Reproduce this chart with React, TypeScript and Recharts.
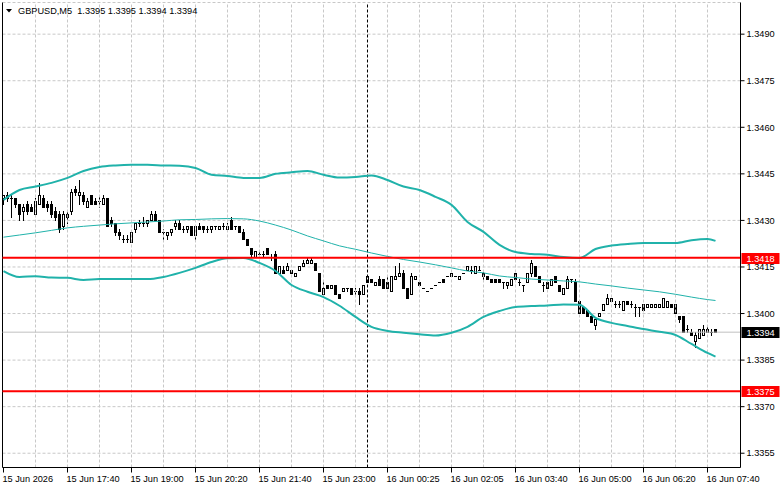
import { ComposedChart, Bar, Line, XAxis, YAxis, CartesianGrid, ReferenceLine } from "recharts"

// GBPUSD M5 candles with Bollinger bands, MT4 look.

const FONT = "'Liberation Sans', Arial, sans-serif"

const OPEN = [
  1.3437, 1.3438, 1.3437, 1.3437, 1.3435, 1.3433, 1.3435, 1.3434, 1.3432, 1.3435,
  1.3437, 1.3435, 1.3435, 1.3433, 1.3432, 1.3428, 1.3431, 1.3433, 1.344, 1.3438,
  1.3438, 1.3434, 1.3438, 1.3436, 1.3436, 1.3435, 1.3437, 1.343, 1.3429, 1.3426,
  1.3424, 1.3424, 1.3423, 1.3427, 1.3429, 1.3429, 1.3429, 1.343, 1.3432, 1.343,
  1.3426, 1.3425, 1.3426, 1.3428, 1.3429, 1.3427, 1.3427, 1.3428, 1.3425, 1.3428,
  1.3428, 1.3427, 1.3427, 1.3428, 1.3427, 1.3428, 1.3427, 1.343, 1.3428, 1.3428,
  1.3426, 1.3424, 1.3421, 1.3418, 1.3419, 1.3419, 1.3421, 1.3418, 1.3419, 1.3413,
  1.3414, 1.3414, 1.3414, 1.3412, 1.3414, 1.3415, 1.3416, 1.3416, 1.3416, 1.3413,
  1.3406, 1.3409, 1.3408, 1.3409, 1.3406, 1.3407, 1.3408, 1.3408, 1.3407, 1.3407,
  1.3406, 1.341, 1.3411, 1.3409, 1.3411, 1.3411, 1.341, 1.3407, 1.3411, 1.3412,
  1.3413, 1.3408, 1.3406, 1.3411, 1.341, 1.3408, 1.3407, 1.3408, 1.3409, 1.341,
  1.3411, 1.3412, 1.3412, 1.3412, 1.3411, 1.3413, 1.3414, 1.3414, 1.3413, 1.3414,
  1.3413, 1.3412, 1.3411, 1.3411, 1.3411, 1.341, 1.3409, 1.3409, 1.3413, 1.341,
  1.3409, 1.341, 1.3413, 1.3415, 1.3412, 1.3409, 1.341, 1.3409, 1.3412, 1.3409,
  1.3406, 1.3408, 1.3411, 1.341, 1.3404, 1.3402, 1.3401, 1.3399, 1.3396, 1.3399,
  1.3401, 1.3403, 1.3404, 1.3403, 1.3403, 1.3401, 1.3404, 1.3403, 1.3402, 1.3402,
  1.3403, 1.3402, 1.3402, 1.3402, 1.3402, 1.3402, 1.3402, 1.3403, 1.3403, 1.3399,
  1.3399, 1.3395, 1.3394, 1.3391, 1.3392, 1.3393, 1.3395, 1.3394, 1.3395,
]
const HIGH = [
  1.3438, 1.3439, 1.3438, 1.3437, 1.3435, 1.3435, 1.3436, 1.3435, 1.3437, 1.3442,
  1.3438, 1.3436, 1.3436, 1.3434, 1.3433, 1.3433, 1.3433, 1.344, 1.3441, 1.3443,
  1.3439, 1.3437, 1.3438, 1.3437, 1.3438, 1.3438, 1.3437, 1.3431, 1.3429, 1.3427,
  1.3425, 1.3425, 1.3426, 1.3429, 1.343, 1.3431, 1.343, 1.3433, 1.3433, 1.343,
  1.3427, 1.3426, 1.3427, 1.343, 1.343, 1.3428, 1.3428, 1.3428, 1.3428, 1.3429,
  1.3428, 1.3428, 1.3428, 1.3428, 1.3428, 1.3429, 1.3429, 1.3431, 1.3428, 1.3428,
  1.3427, 1.3424, 1.3421, 1.342, 1.342, 1.342, 1.3421, 1.3419, 1.342, 1.3415,
  1.3415, 1.3416, 1.3414, 1.3413, 1.3415, 1.3417, 1.3418, 1.3418, 1.3416, 1.3413,
  1.341, 1.3409, 1.3409, 1.3409, 1.3406, 1.3408, 1.3408, 1.3408, 1.3408, 1.3408,
  1.3409, 1.3412, 1.3411, 1.341, 1.3412, 1.3411, 1.3412, 1.3412, 1.3415, 1.3416,
  1.3414, 1.3408, 1.3413, 1.3412, 1.341, 1.3408, 1.3407, 1.3408, 1.3409, 1.341,
  1.3411, 1.3412, 1.3413, 1.3412, 1.3412, 1.3413, 1.3415, 1.3415, 1.3415, 1.3415,
  1.3414, 1.3412, 1.3411, 1.3411, 1.3411, 1.341, 1.341, 1.3411, 1.3413, 1.3411,
  1.3409, 1.3413, 1.3417, 1.3415, 1.3412, 1.341, 1.341, 1.3411, 1.3412, 1.3409,
  1.3408, 1.3412, 1.3411, 1.3411, 1.3404, 1.3402, 1.3401, 1.3399, 1.3398, 1.34,
  1.3403, 1.3406, 1.3405, 1.3404, 1.3404, 1.3404, 1.3404, 1.3404, 1.3403, 1.3402,
  1.3403, 1.3403, 1.3403, 1.3403, 1.3403, 1.3405, 1.3404, 1.3403, 1.3403, 1.3399,
  1.3399, 1.3396, 1.3395, 1.3394, 1.3395, 1.3396, 1.3396, 1.3395, 1.3395,
]
const LOW = [
  1.3435, 1.3436, 1.3431, 1.3434, 1.343, 1.343, 1.3432, 1.3433, 1.3432, 1.3435,
  1.3434, 1.3433, 1.3431, 1.343, 1.3426, 1.3427, 1.3429, 1.3432, 1.3438, 1.3435,
  1.3435, 1.3434, 1.3435, 1.3435, 1.3434, 1.3435, 1.3428, 1.3428, 1.3425, 1.3424,
  1.3423, 1.3423, 1.3423, 1.3426, 1.3428, 1.3428, 1.3428, 1.343, 1.343, 1.3426,
  1.3424, 1.3424, 1.3425, 1.3427, 1.3427, 1.3426, 1.3426, 1.3425, 1.3424, 1.3427,
  1.3426, 1.3426, 1.3426, 1.3427, 1.3427, 1.3427, 1.3427, 1.3427, 1.3427, 1.3426,
  1.3424, 1.3422, 1.3418, 1.3418, 1.3418, 1.3418, 1.3419, 1.3417, 1.3413, 1.3413,
  1.3413, 1.3414, 1.3413, 1.3412, 1.3414, 1.3415, 1.3416, 1.3416, 1.3414, 1.3407,
  1.3406, 1.3408, 1.3408, 1.3406, 1.3405, 1.3407, 1.3407, 1.3406, 1.3406, 1.3403,
  1.3406, 1.341, 1.341, 1.3409, 1.3409, 1.3408, 1.3408, 1.3407, 1.3411, 1.3412,
  1.3408, 1.3405, 1.3406, 1.3411, 1.3409, 1.3408, 1.3407, 1.3408, 1.3409, 1.341,
  1.341, 1.3412, 1.3412, 1.3412, 1.3411, 1.3413, 1.3414, 1.3413, 1.3413, 1.3414,
  1.3411, 1.3411, 1.341, 1.341, 1.341, 1.3408, 1.3408, 1.3409, 1.3411, 1.3409,
  1.3407, 1.341, 1.3412, 1.3412, 1.341, 1.3407, 1.3408, 1.3409, 1.341, 1.3407,
  1.3406, 1.3408, 1.341, 1.3404, 1.34, 1.34, 1.3399, 1.3397, 1.3395, 1.3399,
  1.3401, 1.3403, 1.3404, 1.3402, 1.3402, 1.3401, 1.3403, 1.3402, 1.3399, 1.3399,
  1.3401, 1.3402, 1.3402, 1.3402, 1.3402, 1.3402, 1.3402, 1.3402, 1.34, 1.3397,
  1.3394, 1.3394, 1.3393, 1.3389, 1.3392, 1.3393, 1.3394, 1.3393, 1.3394,
]
const CLOSE = [
  1.3438, 1.3437, 1.3437, 1.3435, 1.3432, 1.3434, 1.3433, 1.3433, 1.3436, 1.3438,
  1.3434, 1.3434, 1.3432, 1.3431, 1.3427, 1.3432, 1.3432, 1.3439, 1.3439, 1.3439,
  1.3436, 1.3436, 1.3435, 1.3435, 1.3436, 1.3437, 1.3428, 1.3429, 1.3426, 1.3425,
  1.3424, 1.3424, 1.3426, 1.3429, 1.3429, 1.3429, 1.343, 1.3432, 1.343, 1.3426,
  1.3426, 1.3426, 1.3427, 1.3429, 1.3427, 1.3427, 1.3428, 1.3425, 1.3428, 1.3427,
  1.3427, 1.3427, 1.3428, 1.3428, 1.3428, 1.3428, 1.3428, 1.3427, 1.3428, 1.3426,
  1.3424, 1.3422, 1.3419, 1.342, 1.3419, 1.3419, 1.3419, 1.3418, 1.3413, 1.3415,
  1.3413, 1.3415, 1.3413, 1.3413, 1.3415, 1.3416, 1.3417, 1.3417, 1.3414, 1.3407,
  1.3408, 1.3408, 1.3409, 1.3406, 1.3405, 1.3408, 1.3408, 1.3406, 1.3407, 1.3406,
  1.3409, 1.3412, 1.341, 1.341, 1.3409, 1.3408, 1.3408, 1.3412, 1.3412, 1.3413,
  1.3408, 1.3405, 1.3412, 1.3412, 1.3409, 1.3408, 1.3407, 1.3408, 1.3409, 1.341,
  1.341, 1.3412, 1.3413, 1.3412, 1.3412, 1.3413, 1.3415, 1.3414, 1.3415, 1.3414,
  1.3412, 1.3411, 1.341, 1.341, 1.341, 1.341, 1.341, 1.3411, 1.3411, 1.341,
  1.3409, 1.3413, 1.3416, 1.3412, 1.341, 1.3409, 1.3408, 1.3411, 1.341, 1.3407,
  1.3408, 1.3411, 1.3411, 1.3404, 1.34, 1.34, 1.3399, 1.3397, 1.3398, 1.34,
  1.3403, 1.3405, 1.3405, 1.3403, 1.3403, 1.3404, 1.3403, 1.3403, 1.3402, 1.3402,
  1.3401, 1.3403, 1.3403, 1.3403, 1.3403, 1.3405, 1.3404, 1.3402, 1.34, 1.3398,
  1.3394, 1.3395, 1.3393, 1.3393, 1.3395, 1.3395, 1.3394, 1.3394, 1.3394,
]

// Bollinger bands, read every 4th bar
const BAND_BARS = [
  0, 4, 8, 12, 16, 20, 24, 28, 32, 36, 40, 44, 48, 52, 56, 60, 64, 68, 72, 76, 80, 84, 88,
  92, 96, 100, 104, 108, 112, 116, 120, 124, 128, 132, 136, 140, 144, 148, 152, 156, 160,
  164, 168, 172, 176, 178,
]
const UPPER = [
  1.34366, 1.34398, 1.34409, 1.34421, 1.34437, 1.34459, 1.34472, 1.34477, 1.34479, 1.34479,
  1.34477, 1.34476, 1.34469, 1.34447, 1.34443, 1.34437, 1.34437, 1.3445, 1.34455, 1.34459,
  1.34447, 1.34438, 1.3444, 1.34445, 1.3443, 1.34409, 1.34398, 1.34376, 1.3435, 1.34295,
  1.34263, 1.34221, 1.34198, 1.34192, 1.34189, 1.34182, 1.34179, 1.34208, 1.34219, 1.34224,
  1.34227, 1.34227, 1.34227, 1.34236, 1.3424, 1.34234,
]
const MIDDLE = [
  1.34246, 1.34253, 1.3426, 1.34268, 1.34276, 1.34281, 1.34285, 1.34289, 1.34292, 1.34295,
  1.34298, 1.34302, 1.34303, 1.34305, 1.34306, 1.34305, 1.34298, 1.34285, 1.34269, 1.3425,
  1.34234, 1.34218, 1.34207, 1.34195, 1.34184, 1.34174, 1.34166, 1.34157, 1.34147, 1.34137,
  1.34131, 1.34121, 1.34116, 1.34111, 1.34108, 1.34105, 1.34102, 1.34095, 1.34089, 1.34082,
  1.34076, 1.3407, 1.34062, 1.34053, 1.34045, 1.34042,
]
const LOWER = [
  1.34137, 1.34118, 1.3412, 1.34116, 1.34115, 1.34108, 1.34111, 1.34111, 1.34111, 1.34111,
  1.34118, 1.34131, 1.34147, 1.34166, 1.34178, 1.34179, 1.34163, 1.34137, 1.34092, 1.3407,
  1.34053, 1.34025, 1.33989, 1.33957, 1.33944, 1.33938, 1.33933, 1.33929, 1.33938, 1.33957,
  1.33989, 1.34008, 1.34021, 1.34024, 1.34026, 1.34029, 1.34028, 1.33986, 1.3397, 1.3396,
  1.3395, 1.33941, 1.33931, 1.33902, 1.33873, 1.33861,
]

const TICK_BARS = [0, 16, 32, 48, 64, 80, 96, 112, 128, 144, 160, 176]
const TICK_LABELS = [
  "15 Jun 2026", "15 Jun 17:40", "15 Jun 19:00", "15 Jun 20:20", "15 Jun 21:40", "15 Jun 23:00",
  "16 Jun 00:25", "16 Jun 02:05", "16 Jun 03:40", "16 Jun 05:00", "16 Jun 06:20", "16 Jun 07:40",
]
const GRID_BARS = [8, 16, 24, 32, 40, 48, 56, 64, 72, 80, 88, 96, 104, 112, 120, 128, 136, 144, 152, 160, 168, 176]
const PRICE_TICKS = [1.3355, 1.337, 1.3385, 1.34, 1.3415, 1.343, 1.3445, 1.346, 1.3475, 1.349]
const LEVELS = [1.3418, 1.3375]
const LAST_PRICE = 1.3394
const SEPARATOR_BAR = 91
const TITLE = "GBPUSD,M5  1.3395 1.3395 1.3394 1.3394"

const BAND = "#20b2aa"

const data = OPEN.map((o, i) => {
  const b = BAND_BARS.indexOf(i)
  return {
    i,
    o,
    h: HIGH[i],
    l: LOW[i],
    c: CLOSE[i],
    up: b >= 0 ? UPPER[b] : null,
    mid: b >= 0 ? MIDDLE[b] : null,
    lo: b >= 0 ? LOWER[b] : null,
  }
})

function Candle(props: any) {
  const { x, y, width, height, payload } = props
  if (payload == null || x == null || y == null) return null
  const { o, h, l, c } = payload
  const top = Math.min(y, y + height)
  const span = Math.abs(height)
  const col = Math.floor(x + width / 2)
  const k = h > l ? span / (h - l) : 0
  const row = (v: number) => Math.floor(top + (h - v) * k)
  const rh = row(h)
  const rl = row(l)
  const rt = row(Math.max(o, c))
  const rb = row(Math.min(o, c))
  let body
  if (rb === rt) body = <rect x={col - 1} y={rt} width={3} height={1} fill="#000" />
  else if (c > o)
    body = <rect x={col - 0.5} y={rt + 0.5} width={2} height={rb - rt} fill="#fff" stroke="#000" strokeWidth={1} />
  else body = <rect x={col - 1} y={rt} width={3} height={rb - rt + 1} fill="#000" />
  return (
    <g>
      {rl > rh && <rect x={col} y={rh} width={1} height={rl - rh + 1} fill="#000" />}
      {body}
    </g>
  )
}

function TimeTick(props: any) {
  const { x, y, payload } = props
  const idx = TICK_BARS.indexOf(payload.value)
  return (
    <text x={x - 1} y={y + 7} fontSize={9.2} fontFamily={FONT} fill="#000" textAnchor="start">
      {TICK_LABELS[idx]}
    </text>
  )
}

function PriceTag({ viewBox, value, bg }: any) {
  if (!viewBox) return null
  const { x, y, width } = viewBox
  return (
    <g>
      <rect x={x + width + 1} y={Math.round(y) - 5} width={38} height={11} fill={bg} />
      <text x={x + width + 6} y={Math.round(y) + 3.5} fontSize={9.2} fontFamily={FONT} fill="#fff">
        {value.toFixed(4)}
      </text>
    </g>
  )
}

export default function App() {
  return (
    <div style={{ position: "absolute", left: 0, top: 0, width: 781, height: 489, background: "#fff" }}>
      <ComposedChart
        width={781}
        height={489}
        data={data}
        margin={{ top: 2.5, right: 0, bottom: 0, left: 2.5 }}
      >
        <CartesianGrid vertical={false} stroke="#c8c8c8" strokeDasharray="3 2" />
        {GRID_BARS.map((g) => (
          <ReferenceLine key={g} x={g} stroke="#c8c8c8" strokeDasharray="3 2" />
        ))}
        <XAxis
          type="number"
          dataKey="i"
          domain={[-0.25, 184.25]}
          allowDataOverflow
          ticks={TICK_BARS}
          tick={<TimeTick />}
          tickSize={5}
          tickMargin={2}
          height={21.5}
          axisLine={{ stroke: "#000" }}
          tickLine={{ stroke: "#000" }}
          interval={0}
        />
        <YAxis
          orientation="right"
          domain={[1.33504, 1.35002]}
          allowDataOverflow
          ticks={PRICE_TICKS}
          tickFormatter={(v: number) => v.toFixed(4)}
          tick={{ fontSize: 9.2, fill: "#000", fontFamily: FONT }}
          tickSize={4}
          tickMargin={2}
          width={40.5}
          axisLine={{ stroke: "#000" }}
          tickLine={{ stroke: "#000" }}
          interval={0}
        />
        <ReferenceLine x={-0.25} stroke="#000" />
        <ReferenceLine x={SEPARATOR_BAR} stroke="#000" strokeDasharray="3 2" />
        <ReferenceLine
          y={LAST_PRICE}
          stroke="#c0c0c0"
          label={(p: any) => <PriceTag {...p} value={LAST_PRICE} bg="#000" />}
        />
        <Line dataKey="up" type="monotone" stroke={BAND} strokeWidth={2} dot={false} connectNulls isAnimationActive={false} />
        <Line dataKey="mid" type="monotone" stroke={BAND} strokeWidth={1} dot={false} connectNulls isAnimationActive={false} />
        <Line dataKey="lo" type="monotone" stroke={BAND} strokeWidth={2} dot={false} connectNulls isAnimationActive={false} />
        <Bar dataKey={(d: any) => [d.l, d.h]} barSize={3} shape={<Candle />} isAnimationActive={false} />
        {LEVELS.map((lv) => (
          <ReferenceLine
            key={lv}
            y={lv}
            stroke="#ff0000"
            strokeWidth={2}
            label={(p: any) => <PriceTag {...p} value={lv} bg="#ff0000" />}
          />
        ))}
      </ComposedChart>
      <svg width={300} height={20} style={{ position: "absolute", left: 0, top: 0 }}>
        <polygon points="6,9 12,9 9,12.5" fill="#000" />
        <text x={18} y={14} fontSize={9.2} fontFamily={FONT} fill="#000" xmlSpace="preserve" style={{ whiteSpace: "pre" }}>
          {TITLE}
        </text>
      </svg>
    </div>
  )
}
